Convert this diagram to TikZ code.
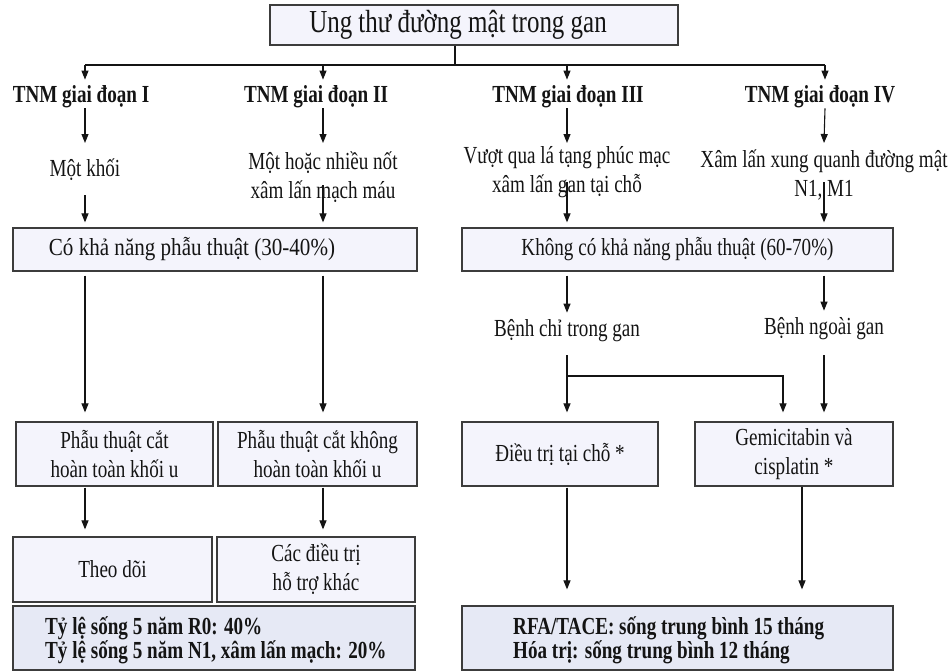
\documentclass[tikz,border=0pt]{standalone}
\usepackage{fontspec}
\setmainfont[FakeStretch=0.78]{Liberation Serif}
\newfontfamily\widefont[FakeStretch=0.86]{Liberation Serif}
\usetikzlibrary{arrows.meta,calc}
\definecolor{boxfill}{HTML}{F4F4FC}
\definecolor{sumfill}{HTML}{E6E9F5}
\definecolor{edge}{HTML}{3C3C3C}
\definecolor{ink}{HTML}{141414}
\newcommand\fnorm{\fontsize{24.5}{29}\selectfont}
\newcommand\fbold{\bfseries\fontsize{24.5}{24}\selectfont}
\newcommand\ftitle{\fontsize{32}{36}\selectfont}
\begin{document}
\begin{tikzpicture}[x=1pt,y=-1pt,
  box/.style={draw=edge, line width=1.2pt, fill=boxfill, inner sep=0pt, align=center, font=\fnorm, text=ink},
  sumbox/.style={box, fill=sumfill},
  lbl/.style={inner sep=0pt, align=center, font=\fnorm, text=ink},
  stagelbl/.style={inner sep=0pt, font=\fbold, text=ink, minimum height=22pt},
  sumtxt/.style={inner sep=0pt, align=left, font=\fbold, text=ink, anchor=west},
  ln/.style={draw=ink, line width=1.1pt},
  arr/.style={draw=ink, line width=1.1pt, -{Triangle[length=9pt,width=7pt]}}]
\useasboundingbox (0,0) rectangle (951,672);
\fill[white] (0,0) rectangle (951,672);

% title
\node[box, minimum width=408pt, minimum height=40pt] (title) at (474,25) {};
\node[lbl, font=\ftitle] (titletxt) at (458,25) {Ung thư đường mật trong gan};

% bus
\coordinate (j0) at (455,65);
\coordinate (b1) at (85,65);
\coordinate (b2) at (323,65);
\coordinate (b3) at (567,65);
\coordinate (b4) at (825,65);

% stage labels
\node[stagelbl] (s1) at (81,97) {TNM giai đoạn I};
\node[stagelbl] (s2) at (316,97) {TNM giai đoạn II};
\node[stagelbl] (s3) at (568,97) {TNM giai đoạn III};
\node[stagelbl] (s4) at (820,97) {TNM giai đoạn IV};

% stage descriptions
\node[lbl] (t1) at (85,170) {Một khối};
\node[lbl] (t2) at (323,177) {Một hoặc nhiều nốt\\xâm lấn mạch máu};
\node[lbl] (t3) at (567,172) {Vượt qua lá tạng phúc mạc\\xâm lấn gan tại chỗ};
\node[lbl] (t4) at (824,175) {Xâm lấn xung quanh đường mật\\N1, M1};

% resectability boxes
\node[box, minimum width=404pt, minimum height=43pt] (boxL) at (215,249.5) {};
\node[lbl, font=\widefont\fnorm] (boxLtxt) at (192,249) {Có khả năng phẫu thuật (30-40\%)};
\node[box, minimum width=431pt, minimum height=43pt] (boxR) at (677.5,249.5) {Không có khả năng phẫu thuật (60-70\%)};

% right branch labels
\node[lbl] (bc) at (567,331) {Bệnh chỉ trong gan};
\node[lbl] (bn) at (824,329) {Bệnh ngoài gan};

% row 3
\node[box, minimum width=197pt, minimum height=64pt] (p1) at (114.5,454) {Phẫu thuật cắt\\hoàn toàn khối u};
\node[box, minimum width=199pt, minimum height=64pt] (p2) at (317.5,454) {Phẫu thuật cắt không\\hoàn toàn khối u};
\node[box, minimum width=196pt, minimum height=64pt] (d1) at (560,454) {Điều trị tại chỗ *};
\node[box, minimum width=198pt, minimum height=64pt] (g1) at (794,454) {Gemicitabin và\\cisplatin *};

% row 4
\node[box, minimum width=199pt, minimum height=65pt] (th) at (112.5,569.5) {Theo dõi};
\node[box, minimum width=198pt, minimum height=65pt] (cd) at (316,569.5) {Các điều trị\\hỗ trợ khác};

% summary boxes
\node[sumbox, minimum width=402pt, minimum height=64pt] (sumL) at (214,638) {};
\node[sumtxt] (sumLtxt) at (45,640) {Tỷ lệ sống 5 năm R0: 40\%\\Tỷ lệ sống 5 năm N1, xâm lấn mạch: 20\%};
\node[sumbox, minimum width=431pt, minimum height=64pt] (sumR) at (677.5,638) {};
\node[sumtxt] (sumRtxt) at (513,640) {RFA/TACE: sống trung bình 15 tháng\\Hóa trị: sống trung bình 12 tháng};

% connectors: top
\draw[ln] (title.south -| j0) -- (j0);
\draw[ln] (b1) -- (b4);
\foreach \b/\s in {b1/s1, b2/s2, b3/s3, b4/s4}
  \draw[arr, shorten >=6pt] (\b) -- (\b |- \s.north);
\draw[arr] (s1.south -| b1) -- ($(t1)+(0,-27)$);
\draw[arr] (s2.south -| b2) -- ($(t2)+(0,-34)$);
\draw[arr] (s3.south -| b3) -- ($(t3)+(0,-29)$);
\draw[arr] (s4.south -| b4) -- ($(t4)+(0,-32)$);
\draw[arr, shorten >=5pt] ($(t1)+(0,25)$) -- (t1 |- boxL.north);
\draw[arr, shorten >=5pt] ($(t2)+(0,8)$) -- (t2 |- boxL.north);
\draw[arr, shorten >=5pt] ($(t3)+(0,10)$) -- (t3 |- boxR.north);
\draw[arr, shorten >=5pt] ($(t4)+(0,7)$) -- (t4 |- boxR.north);

% left column
\draw[arr, shorten <=4pt, shorten >=9pt] (boxL.south -| b1) -- (b1 |- p1.north);
\draw[arr, shorten <=4pt, shorten >=9pt] (boxL.south -| b2) -- (b2 |- p2.north);
\draw[arr, shorten <=1pt, shorten >=7pt] (p1.south -| b1) -- (b1 |- th.north);
\draw[arr, shorten <=1pt, shorten >=7pt] (p2.south -| b2) -- (b2 |- cd.north);

% right column
\draw[arr, shorten <=4pt, shorten >=7pt] (boxR.south -| bc) -- (bc.north);
\draw[arr, shorten <=4pt, shorten >=7pt] (boxR.south -| bn) -- (bn.north);
\coordinate (gx) at (783,376);
\draw[arr, shorten >=9pt] ($(bc)+(0,24)$) -- (bc |- d1.north);
\draw[arr, shorten >=9pt] (bc |- gx) -- (gx) -- (gx |- g1.north);
\draw[arr, shorten >=9pt] ($(bn)+(0,26)$) -- (bn |- g1.north);
\coordinate (gd) at (802,487);
\draw[arr, shorten <=1pt, shorten >=16pt] (d1.south -| bc) -- (bc |- sumR.north);
\draw[arr, shorten >=16pt] (gd) -- (gd |- sumR.north);
\end{tikzpicture}
\end{document}
